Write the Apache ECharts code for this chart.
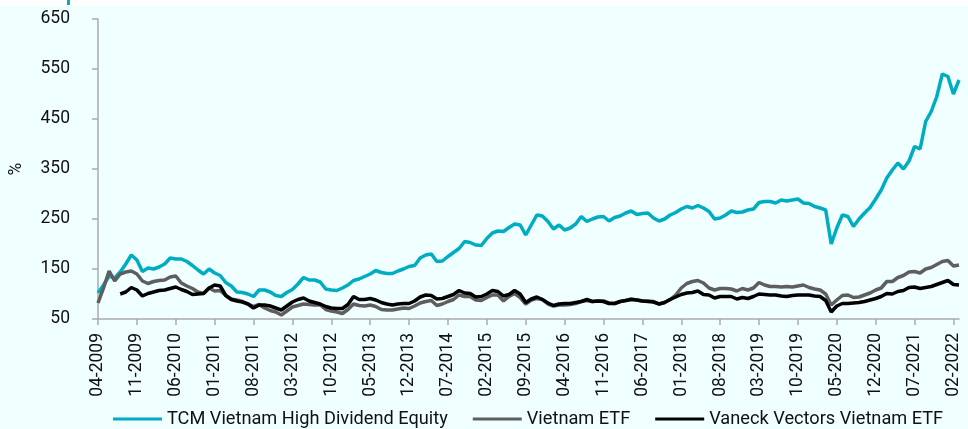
<!DOCTYPE html>
<html>
<head>
<meta charset="utf-8">
<script src="https://cdn.jsdelivr.net/npm/echarts@6/dist/echarts.min.js"></script>
<style>
  html, body { margin: 0; padding: 0; background: #fff; }
  #fundChart { width: 968px; height: 429px; }
</style>
</head>
<body>
<div id="fundChart"></div>
<script>
// monthly points, 04-2009 .. 03-2022
var startYear = 2009, startMonth = 4, monthCount = 156;
var months = [];
for (var m = 0; m < monthCount; m++) {
  var mm = (startMonth - 1 + m) % 12 + 1;
  var yy = startYear + Math.floor((startMonth - 1 + m) / 12);
  months.push((mm < 10 ? '0' + mm : '' + mm) + '-' + yy);
}

var seriesNames = ['TCM Vietnam High Dividend Equity', 'Vietnam ETF', 'Vaneck Vectors Vietnam ETF'];
var yTicks = [50, 150, 250, 350, 450, 550, 650];

// TCM Vietnam High Dividend Equity
var tcmValues = [
  102, 118, 136, 132, 144, 160, 178, 168, 145, 152,
  150, 154, 160, 172, 170, 170, 165, 157, 148, 140,
  150, 142, 137, 123, 116, 104, 103, 100, 95, 108,
  108, 104, 97, 95, 103, 109, 120, 133, 128, 128,
  124, 110, 108, 107, 112, 118, 127, 130, 135, 140,
  147, 143, 141, 141, 146, 150, 155, 157, 172, 178,
  180, 165, 166, 175, 183, 191, 205, 203, 198, 197,
  211, 222, 226, 225, 233, 240, 238, 218, 238, 258,
  256, 245, 230, 238, 228, 232, 240, 255, 245, 250,
  254, 255, 246, 253, 256, 262, 266, 259, 261, 262,
  252, 246, 250, 258, 263, 270, 275, 272, 277, 272,
  265, 250, 252, 258, 266, 263, 264, 268, 270, 283,
  285, 285, 282, 288, 286, 288, 290, 282, 281, 275,
  272, 268, 200, 232, 258, 255, 235, 250, 262, 273,
  290, 308, 332, 348, 362, 350, 366, 395, 390, 445,
  465, 495, 540, 535, 500, 528
];

// Vietnam ETF
var etfValues = [
  82, 112, 146, 126, 140, 144, 146, 140, 126, 121,
  125, 127, 128, 134, 136, 122, 116, 111, 104, 101,
  112, 106, 107, 97, 90, 88, 85, 80, 75, 79,
  72, 67, 64, 58, 66, 74, 77, 80, 79, 78,
  78, 69, 66, 64, 61, 69, 80, 77, 76, 78,
  75, 69, 68, 68, 70, 72, 71, 76, 82, 85,
  87, 77, 80, 85, 89, 98, 95, 95, 88, 87,
  93, 98, 98, 86, 95, 101, 93, 80, 88, 91,
  89, 80, 76, 78, 78, 79, 81, 85, 87, 85,
  86, 86, 82, 81, 85, 87, 90, 88, 86, 86,
  85, 80, 83, 89, 98, 112, 121, 125, 127, 122,
  112, 108, 111, 111, 110, 106, 111, 108, 112, 123,
  118, 115, 115, 114, 115, 114, 116, 118, 113, 110,
  108, 100, 78, 88, 97, 98, 93, 94, 98, 102,
  108, 112, 125, 125, 133, 137, 144, 145, 142, 150,
  153, 159, 165, 167, 156, 158
];

// Vaneck Vectors Vietnam ETF (no data before 08-2009)
var vaneckValues = [
  null, null, null, null, 100, 104, 113, 108, 96, 101,
  104, 107, 108, 111, 114, 109, 105, 99, 100, 101,
  112, 118, 116, 97, 89, 86, 84, 80, 72, 78,
  78, 76, 72, 68, 76, 84, 89, 92, 86, 83,
  80, 75, 72, 71, 71, 79, 95, 89, 89, 91,
  88, 83, 80, 78, 80, 81, 81, 86, 94, 98,
  97, 90, 91, 95, 99, 107, 102, 101, 94, 95,
  100, 107, 105, 96, 99, 107, 100, 83, 90, 94,
  89, 82, 77, 80, 81, 81, 83, 85, 89, 85,
  86, 85, 81, 81, 85, 87, 89, 88, 86, 85,
  84, 80, 83, 89, 94, 99, 102, 103, 106, 99,
  98, 92, 95, 95, 95, 90, 93, 91, 95, 100,
  99, 98, 98, 96, 95, 97, 98, 98, 98, 96,
  95, 87, 64, 76, 81, 81, 82, 83, 85, 88,
  91, 95, 101, 100, 105, 107, 113, 114, 111, 113,
  115, 119, 123, 127, 119, 118
];

var lineColors = ['#00ACC1', '#5E5E5E', '#000000'];
var fontName = 'Roboto';
var textColor = '#111111';

var chart = echarts.init(document.getElementById('fundChart'));

// 生成折线配置
function lineSeries(name, values, color) {
  return {
    name: name,
    type: 'line',
    data: values,
    showSymbol: false,
    symbol: 'none',
    connectNulls: false,
    lineStyle: { color: color, width: 3.5 },
    itemStyle: { color: color },
    animation: false
  };
}

var option = {
  backgroundColor: '#F0FFFF',
  textStyle: { fontFamily: fontName },
  graphic: [
    { type: 'rect', left: 0, top: 0, shape: { width: 968, height: 6 }, style: { fill: '#ffffff' }, silent: true },
    { type: 'rect', left: 67, top: 0, shape: { width: 3, height: 5 }, style: { fill: '#00ACC1' }, silent: true }
  ],
  grid: { left: 92, right: 9, top: 19, bottom: 110 },
  legend: {
    left: 108,
    top: 405,
    icon: 'rect',
    itemWidth: 49,
    itemHeight: 3,
    itemGap: 25,
    textStyle: { fontFamily: fontName, fontSize: 18.2, color: textColor },
    data: seriesNames
  },
  xAxis: {
    type: 'category',
    data: months,
    boundaryGap: false,
    axisLine: { lineStyle: { color: '#ABABAB', width: 1.5 } },
    axisTick: { interval: 6, length: 6, lineStyle: { color: '#ABABAB', width: 1.5 } },
    axisLabel: {
      interval: 6,
      rotate: 90,
      margin: 14,
      fontFamily: fontName,
      fontSize: 17.5,
      color: textColor
    }
  },
  yAxis: {
    type: 'value',
    min: yTicks[0],
    max: yTicks[yTicks.length - 1],
    interval: 100,
    name: '%',
    nameLocation: 'middle',
    nameGap: 72,
    nameTextStyle: { fontFamily: fontName, fontSize: 17.5, color: textColor },
    axisLine: { show: true, lineStyle: { color: '#ABABAB', width: 1.5 } },
    axisTick: { show: true, length: 6, lineStyle: { color: '#ABABAB', width: 1.5 } },
    splitLine: { show: false },
    axisLabel: { margin: 28, fontFamily: fontName, fontSize: 17.5, color: textColor }
  },
  series: [
    lineSeries(seriesNames[0], tcmValues, lineColors[0]),
    lineSeries(seriesNames[1], etfValues, lineColors[1]),
    lineSeries(seriesNames[2], vaneckValues, lineColors[2])
  ]
};

chart.setOption(option);
</script>
</body>
</html>
